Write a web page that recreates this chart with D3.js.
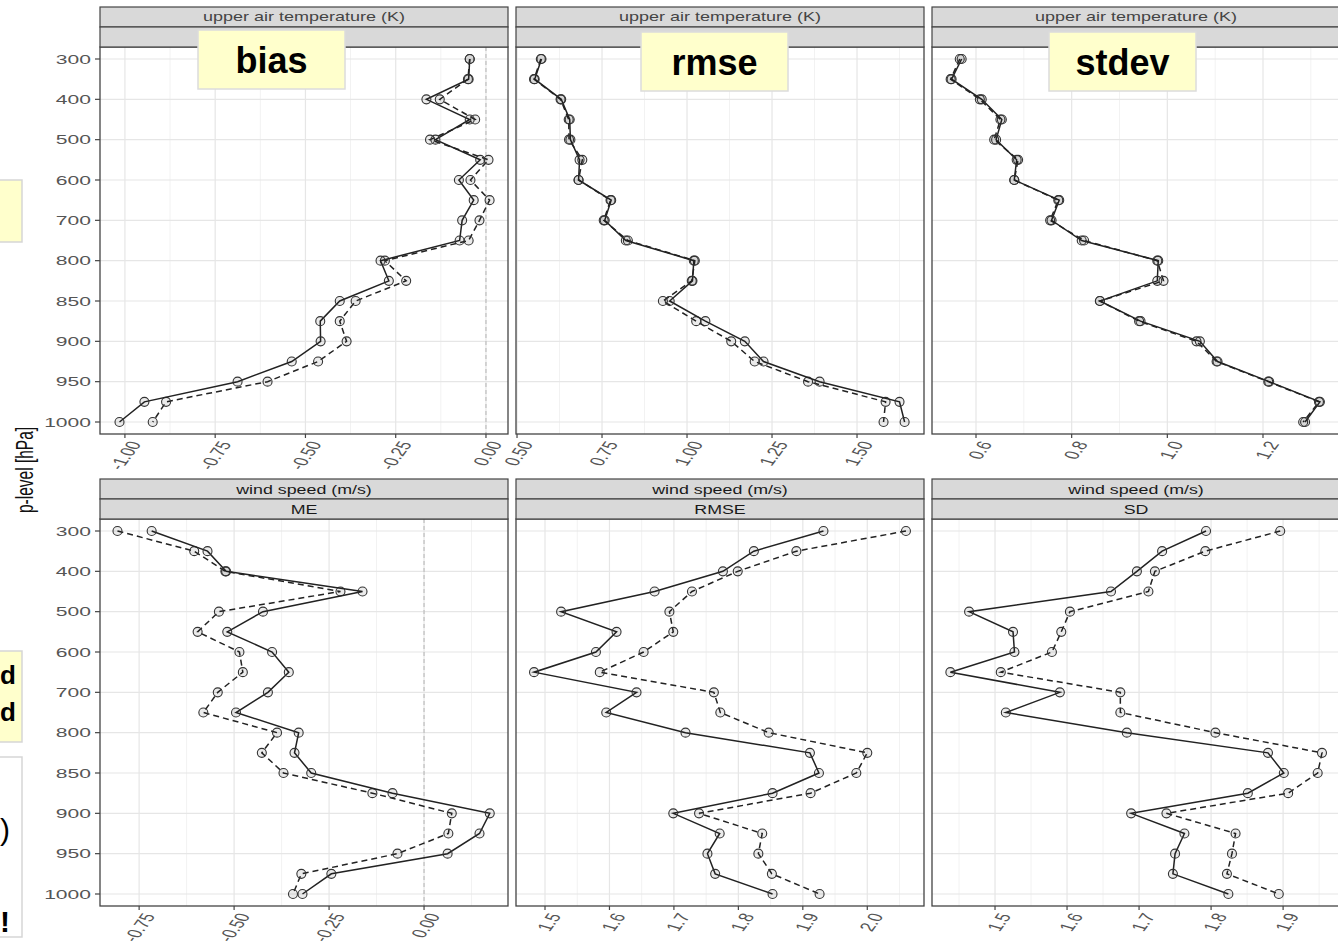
<!DOCTYPE html>
<html>
<head>
<meta charset="utf-8">
<script src="https://cdn.jsdelivr.net/npm/d3@7"></script>
<style>
  body { margin: 0; background: #fff; }
  svg { display: block; }
</style>
</head>
<body>
<svg id="chart" width="1338" height="943"></svg>
<script>
// pressure levels (hPa), evenly spaced on the plot
var levels = [300, 350, 400, 450, 500, 550, 600, 650, 700, 750, 800, 825, 850, 875, 900, 925, 950, 975, 1000];
var levelLabels = [300, 400, 500, 600, 700, 800, 850, 900, 950, 1000];

// upper air temperature (K)
var biasSolid  = [-0.045, -0.048, -0.165, -0.045, -0.14, -0.016, -0.075, -0.034, -0.066, -0.073, -0.292, -0.269, -0.405, -0.459, -0.458, -0.538, -0.688, -0.946, -1.015];
var biasDashed = [-0.045, -0.050, -0.128, -0.030, -0.155, 0.007, -0.043, 0.010, -0.018, -0.048, -0.280, -0.221, -0.361, -0.405, -0.386, -0.465, -0.605, -0.886, -0.923];
var rmseSolid  = [0.572, 0.552, 0.630, 0.655, 0.657, 0.684, 0.681, 0.777, 0.758, 0.820, 1.020, 1.016, 0.949, 1.054, 1.170, 1.225, 1.390, 1.625, 1.640];
var rmseDashed = [0.570, 0.550, 0.628, 0.652, 0.653, 0.692, 0.681, 0.775, 0.755, 0.826, 1.023, 1.014, 0.929, 1.027, 1.130, 1.199, 1.356, 1.584, 1.578];
var stdevSolid  = [0.570, 0.549, 0.612, 0.654, 0.642, 0.685, 0.680, 0.774, 0.758, 0.821, 0.981, 0.979, 0.859, 0.944, 1.068, 1.105, 1.213, 1.319, 1.288];
var stdevDashed = [0.566, 0.547, 0.608, 0.651, 0.638, 0.688, 0.680, 0.772, 0.755, 0.826, 0.979, 0.992, 0.859, 0.941, 1.061, 1.103, 1.211, 1.317, 1.284];

// wind speed (m/s)
var meSolid  = [-0.717, -0.570, -0.521, -0.162, -0.424, -0.518, -0.400, -0.356, -0.411, -0.495, -0.330, -0.341, -0.297, -0.083, 0.173, 0.146, 0.062, -0.244, -0.320];
var meDashed = [-0.807, -0.605, -0.523, -0.220, -0.540, -0.596, -0.486, -0.477, -0.543, -0.581, -0.387, -0.427, -0.370, -0.136, 0.073, 0.064, -0.070, -0.323, -0.345];
var wsRmseSolid  = [1.932, 1.824, 1.776, 1.670, 1.525, 1.611, 1.579, 1.483, 1.642, 1.595, 1.718, 1.911, 1.925, 1.853, 1.699, 1.771, 1.752, 1.764, 1.853];
var wsRmseDashed = [2.060, 1.890, 1.799, 1.728, 1.693, 1.699, 1.653, 1.585, 1.762, 1.772, 1.847, 2.000, 1.983, 1.912, 1.739, 1.837, 1.831, 1.852, 1.926];
var sdSolid  = [1.793, 1.732, 1.697, 1.661, 1.464, 1.525, 1.527, 1.438, 1.590, 1.515, 1.683, 1.879, 1.901, 1.851, 1.689, 1.763, 1.750, 1.747, 1.824];
var sdDashed = [1.896, 1.792, 1.722, 1.713, 1.604, 1.592, 1.579, 1.508, 1.674, 1.674, 1.806, 1.954, 1.948, 1.907, 1.738, 1.834, 1.829, 1.822, 1.894];

// x axis ticks
var biasTicks = [-1, -0.75, -0.5, -0.25, 0];
var biasTickLabels = ["-1.00", "-0.75", "-0.50", "-0.25", "0.00"];
var rmseTicks = [0.5, 0.75, 1, 1.25, 1.5];
var rmseTickLabels = ["0.50", "0.75", "1.00", "1.25", "1.50"];
var stdevTicks = [0.6, 0.8, 1.0, 1.2];
var stdevTickLabels = ["0.6", "0.8", "1.0", "1.2"];
var meTicks = [-0.75, -0.5, -0.25, 0];
var meTickLabels = ["-0.75", "-0.50", "-0.25", "0.00"];
var wsRmseTicks = [1.5, 1.6, 1.7, 1.8, 1.9, 2.0];
var wsRmseTickLabels = ["1.5", "1.6", "1.7", "1.8", "1.9", "2.0"];
var sdTicks = [1.5, 1.6, 1.7, 1.8, 1.9];
var sdTickLabels = ["1.5", "1.6", "1.7", "1.8", "1.9"];

var topStrip = "upper air temperature (K)";
var bottomStrip = "wind speed (m/s)";
var bottomStats = ["ME", "RMSE", "SD"];
var overlayLabels = ["bias", "rmse", "stdev"];

var panels = [
  {row: 0, col: 0, strips: [topStrip, ""], solid: biasSolid, dashed: biasDashed, domain: [-1.069, 0.061], ticks: biasTicks, labels: biasTickLabels, zero: true},
  {row: 0, col: 1, strips: [topStrip, ""], solid: rmseSolid, dashed: rmseDashed, domain: [0.497, 1.697], ticks: rmseTicks, labels: rmseTickLabels},
  {row: 0, col: 2, strips: [topStrip, ""], solid: stdevSolid, dashed: stdevDashed, domain: [0.508, 1.361], ticks: stdevTicks, labels: stdevTickLabels},
  {row: 1, col: 0, strips: [bottomStrip, bottomStats[0]], solid: meSolid, dashed: meDashed, domain: [-0.853, 0.221], ticks: meTicks, labels: meTickLabels, zero: true},
  {row: 1, col: 1, strips: [bottomStrip, bottomStats[1]], solid: wsRmseSolid, dashed: wsRmseDashed, domain: [1.455, 2.088], ticks: wsRmseTicks, labels: wsRmseTickLabels},
  {row: 1, col: 2, strips: [bottomStrip, bottomStats[2]], solid: sdSolid, dashed: sdDashed, domain: [1.4125, 1.979], ticks: sdTicks, labels: sdTickLabels}
];

var font = "'Liberation Sans', Arial, Helvetica, sans-serif";
var colX = [100, 516, 932], panelW = 408, panelH = 387;
var rows = [
  {stripTop: 7, stripH: 20, stripFont: 12, stripScale: 1.5, stripColor: "#444"},
  {stripTop: 479, stripH: 20, stripFont: 13.5, stripScale: 1.32, stripColor: "#1a1a1a"}
];

var svg = d3.select("#chart");
svg.append("rect").attr("width", 1338).attr("height", 943).attr("fill", "#fff");

var y = d3.scalePoint().domain(levels).range([12, 375]);

panels.forEach(function (p) {
  var r = rows[p.row];
  var top = r.stripTop + 2 * r.stripH;
  var g = svg.append("g").attr("transform", "translate(" + colX[p.col] + "," + top + ")");
  var x = d3.scaleLinear().domain(p.domain).range([0, panelW]);

  g.append("rect").attr("width", panelW).attr("height", panelH).attr("fill", "#fff");

  // minor grid at midpoints between ticks
  var step = p.ticks[1] - p.ticks[0];
  var minor = [];
  for (var i = -1; i < p.ticks.length; i++) {
    var m = p.ticks[0] + step * (i + 0.5);
    if (m > p.domain[0] && m < p.domain[1]) minor.push(m);
  }
  g.selectAll(".minor").data(minor).enter().append("line")
    .attr("x1", function (d) { return x(d); }).attr("x2", function (d) { return x(d); })
    .attr("y1", 0).attr("y2", panelH)
    .attr("stroke", "#f2f2f2").attr("stroke-width", 1);

  g.selectAll(".vmajor").data(p.ticks).enter().append("line")
    .attr("x1", function (d) { return x(d); }).attr("x2", function (d) { return x(d); })
    .attr("y1", 0).attr("y2", panelH)
    .attr("stroke", "#e6e6e6").attr("stroke-width", 1.2);

  g.selectAll(".hmajor").data(levelLabels).enter().append("line")
    .attr("x1", 0).attr("x2", panelW)
    .attr("y1", function (d) { return y(d); }).attr("y2", function (d) { return y(d); })
    .attr("stroke", "#e6e6e6").attr("stroke-width", 1.2);

  if (p.zero) {
    g.append("line")
      .attr("x1", x(0)).attr("x2", x(0)).attr("y1", 0).attr("y2", panelH)
      .attr("stroke", "#b5b5b5").attr("stroke-width", 1).attr("stroke-dasharray", "4,3");
  }

  var line = d3.line()
    .x(function (d) { return x(d); })
    .y(function (d, i) { return y(levels[i]); });

  [["dashed", p.dashed], ["solid", p.solid]].forEach(function (s) {
    g.append("path").datum(s[1])
      .attr("d", line)
      .attr("fill", "none")
      .attr("stroke", "#222")
      .attr("stroke-width", 1.5)
      .attr("stroke-dasharray", s[0] == "dashed" ? "6,4" : null);
    g.selectAll(".pt-" + s[0]).data(s[1]).enter().append("circle")
      .attr("cx", function (d) { return x(d); })
      .attr("cy", function (d, i) { return y(levels[i]); })
      .attr("r", 4.5)
      .attr("fill", "rgba(0,0,0,0.08)")
      .attr("stroke", "#333")
      .attr("stroke-width", 1.1);
  });

  g.append("rect").attr("width", panelW).attr("height", panelH)
    .attr("fill", "none").attr("stroke", "#444").attr("stroke-width", 1.3);

  // strips
  p.strips.forEach(function (txt, k) {
    var sy = r.stripTop + k * r.stripH - top;
    g.append("rect").attr("x", 0).attr("y", sy).attr("width", panelW).attr("height", r.stripH)
      .attr("fill", "#d9d9d9").attr("stroke", "#444").attr("stroke-width", 1.2);
    g.append("text")
      .attr("transform", "translate(" + (panelW / 2) + "," + (sy + r.stripH / 2) + ") scale(" + r.stripScale + ",1)")
      .attr("text-anchor", "middle").attr("dy", "0.35em")
      .style("font-family", font).style("font-size", r.stripFont + "px")
      .attr("fill", r.stripColor)
      .text(txt);
  });

  // x ticks
  g.selectAll(".xtick").data(p.ticks).enter().append("line")
    .attr("x1", function (d) { return x(d); }).attr("x2", function (d) { return x(d); })
    .attr("y1", panelH).attr("y2", panelH + 4)
    .attr("stroke", "#444").attr("stroke-width", 1.2);
  g.selectAll(".xlab").data(p.ticks).enter().append("text")
    .attr("transform", function (d) {
      return "translate(" + (x(d) + 10) + "," + (panelH + 8) + ") scale(1.6,1) rotate(-65)";
    })
    .attr("text-anchor", "end").attr("dy", "0.35em")
    .style("font-family", font).style("font-size", "13px")
    .attr("fill", "#555")
    .text(function (d, i) { return p.labels[i]; });

  // y axis on the first column only
  if (p.col == 0) {
    g.selectAll(".ytick").data(levelLabels).enter().append("line")
      .attr("x1", -5).attr("x2", 0)
      .attr("y1", function (d) { return y(d); }).attr("y2", function (d) { return y(d); })
      .attr("stroke", "#444").attr("stroke-width", 1.2);
    g.selectAll(".ylab").data(levelLabels).enter().append("text")
      .attr("transform", function (d) { return "translate(-9," + y(d) + ") scale(1.62,1)"; })
      .attr("text-anchor", "end").attr("dy", "0.35em")
      .style("font-family", font).style("font-size", "13px")
      .attr("fill", "#555")
      .text(function (d) { return d; });
  }
});

// axis title
svg.append("text")
  .attr("transform", "translate(33,470) scale(1.5,1) rotate(-90)")
  .attr("text-anchor", "middle")
  .style("font-family", font).style("font-size", "15.5px")
  .attr("fill", "#111")
  .text("p-level [hPa]");

// overlay labels on the top row
var boxX = [198, 641, 1049];
var boxY = [30, 32, 32];
overlayLabels.forEach(function (t, i) {
  svg.append("rect").attr("x", boxX[i]).attr("y", boxY[i]).attr("width", 147).attr("height", 59)
    .attr("fill", "#ffffcc").attr("stroke", "#dcdcdc").attr("stroke-width", 1.5);
  svg.append("text").attr("x", boxX[i] + 73.5).attr("y", boxY[i] + 43)
    .attr("text-anchor", "middle")
    .style("font-family", font).style("font-size", "36px").style("font-weight", "bold")
    .attr("fill", "#000")
    .text(t);
});

// boxes cut by the left edge
svg.append("rect").attr("x", -3).attr("y", 180).attr("width", 25).attr("height", 62)
  .attr("fill", "#ffffcc").attr("stroke", "#d6d6d6").attr("stroke-width", 1.5);
svg.append("rect").attr("x", -3).attr("y", 651).attr("width", 25).attr("height", 91)
  .attr("fill", "#ffffcc").attr("stroke", "#d6d6d6").attr("stroke-width", 1.5);
svg.append("rect").attr("x", -3).attr("y", 757).attr("width", 25).attr("height", 180)
  .attr("fill", "#fff").attr("stroke", "#d6d6d6").attr("stroke-width", 1.5);
var edgeText = [["d", 684, "bold", 26], ["d", 721, "bold", 26], [")", 840, "normal", 30], ["!", 932, "bold", 30]];
edgeText.forEach(function (t) {
  svg.append("text").attr("x", 0).attr("y", t[1])
    .style("font-family", font).style("font-size", t[3] + "px").style("font-weight", t[2])
    .attr("fill", "#000")
    .text(t[0]);
});
</script>
</body>
</html>
